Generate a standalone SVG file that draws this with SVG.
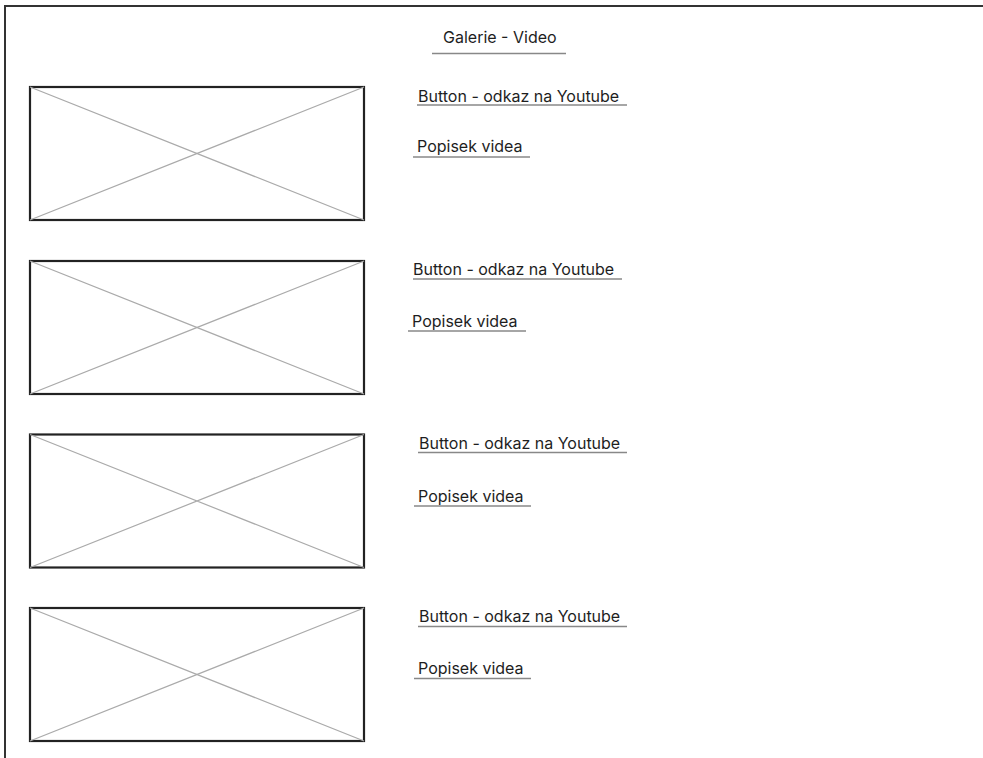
<svg xmlns="http://www.w3.org/2000/svg" width="983" height="758" viewBox="0 0 983 758">
<style>
.frame{fill:none;stroke:#333;stroke-width:2}
.box{fill:#fff;stroke:#222;stroke-width:2.2}
.diag{stroke:#aaa;stroke-width:1.2;fill:none}
.t{font-family:Inter,"Liberation Sans",sans-serif;font-size:16px;fill:#1e1e1e}
.ul{stroke:#888;stroke-width:1.5}
</style>
<rect width="983" height="758" fill="#fff"/>
<path class="frame" d="M5,758 V6 H983"/>
<g id="title">
<text class="t" x="443" y="43">Galerie - Video</text>
<line class="ul" x1="432" y1="53.5" x2="566" y2="53.5"/>
</g>
<g id="video1">
<rect class="box" x="30" y="87" width="334" height="133"/>
<path class="diag" d="M30,87 L364,220 M364,87 L30,220"/>
</g>
<g id="button1"><text class="t" x="418" y="101.5">Button - odkaz na Youtube</text><line class="ul" x1="417" y1="105" x2="627" y2="105"/></g>
<g id="desc1"><text class="t" x="417" y="152">Popisek videa</text><line class="ul" x1="413" y1="157" x2="530" y2="157"/></g>
<g id="video2">
<rect class="box" x="30" y="261" width="334" height="133"/>
<path class="diag" d="M30,261 L364,394 M364,261 L30,394"/>
</g>
<g id="button2"><text class="t" x="413" y="275">Button - odkaz na Youtube</text><line class="ul" x1="413" y1="279" x2="622" y2="279"/></g>
<g id="desc2"><text class="t" x="412" y="326.5">Popisek videa</text><line class="ul" x1="408" y1="331" x2="526" y2="331"/></g>
<g id="video3">
<rect class="box" x="30" y="434.5" width="334" height="133"/>
<path class="diag" d="M30,434.5 L364,567.5 M364,434.5 L30,567.5"/>
</g>
<g id="button3"><text class="t" x="419" y="449">Button - odkaz na Youtube</text><line class="ul" x1="418" y1="452.5" x2="627" y2="452.5"/></g>
<g id="desc3"><text class="t" x="418" y="501.5">Popisek videa</text><line class="ul" x1="414" y1="506" x2="531" y2="506"/></g>
<g id="video4">
<rect class="box" x="30" y="608" width="334" height="133"/>
<path class="diag" d="M30,608 L364,741 M364,608 L30,741"/>
</g>
<g id="button4"><text class="t" x="419" y="622">Button - odkaz na Youtube</text><line class="ul" x1="418" y1="626.5" x2="627" y2="626.5"/></g>
<g id="desc4"><text class="t" x="418" y="674">Popisek videa</text><line class="ul" x1="414" y1="678.5" x2="531" y2="678.5"/></g>
</svg>
